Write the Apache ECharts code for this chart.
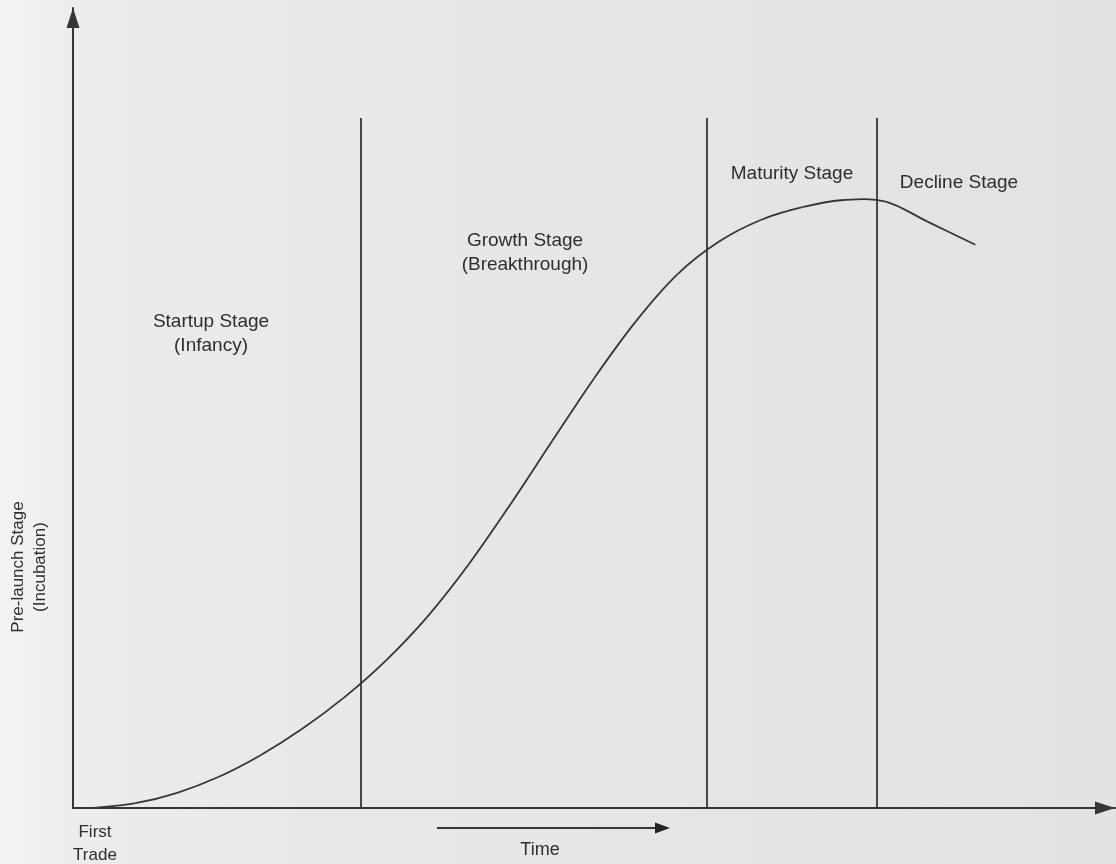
<!DOCTYPE html>
<html>
<head>
<meta charset="utf-8">
<script src="https://cdn.jsdelivr.net/npm/echarts@6/dist/echarts.min.js"></script>
<style>
html,body{margin:0;padding:0;background:#e6e6e6;}
#chart{width:1116px;height:864px;}
</style>
</head>
<body>
<div id="chart"></div>
<script>
// Life-cycle curve: time (x) vs. development (y), arbitrary 0-100 units
const curveTime = [2, 6, 10, 14, 18, 22, 26, 30, 34, 38, 42, 46, 50, 54, 58, 62, 66, 70, 74, 78, 82, 86.6];
const curveLevel = [0, 0.6, 1.9, 3.9, 6.6, 9.9, 13.8, 18.4, 23.9, 30.5, 38.0, 45.9, 53.7, 60.8, 66.7, 70.8, 73.5, 75.1, 76.0, 75.8, 73.3, 70.4];
// Stage boundaries (time) and their height
const stageBoundaries = [27.6, 60.8, 77.1];
const boundaryTop = 86.25;
// Stage labels
const stageLabels = ['Startup Stage\n(Infancy)', 'Growth Stage\n(Breakthrough)', 'Maturity Stage', 'Decline Stage'];
const yAxisLabel = 'Pre-launch Stage\n(Incubation)';
const originLabel = 'First\nTrade';
const timeLabel = 'Time';

const ink = '#363636';
const txt = '#2e2e2e';
const font = '"Liberation Sans", Arial, sans-serif';

const chart = echarts.init(document.getElementById('chart'), null, {renderer: 'canvas'});

const curveData = curveTime.map((t, i) => [t, curveLevel[i]]);
const boundaryLines = stageBoundaries.map(x => [{coord: [x, 0]}, {coord: [x, boundaryTop]}]);

const labelPos = [[211, 334], [525, 253], [792, 174], [959, 183]];

const graphics = [
  {
    type: 'rect', z: -100, silent: true,
    shape: {x: 0, y: 0, width: 1116, height: 864},
    style: {fill: new echarts.graphic.LinearGradient(0, 0, 1, 0, [
      {offset: 0, color: '#f3f3f3'},
      {offset: 0.08, color: '#ececec'},
      {offset: 0.4, color: '#e7e7e7'},
      {offset: 1, color: '#e2e2e2'}
    ])}
  }
];
stageLabels.forEach((s, i) => {
  graphics.push({
    type: 'text', x: labelPos[i][0], y: labelPos[i][1],
    style: {text: s, fill: txt, font: '19px ' + font, textAlign: 'center', textVerticalAlign: 'middle', lineHeight: 24}
  });
});
graphics.push({
  type: 'text', x: 29, y: 567, rotation: Math.PI / 2,
  style: {text: yAxisLabel, fill: txt, font: '17px ' + font, textAlign: 'center', textVerticalAlign: 'middle', lineHeight: 22}
});
graphics.push({
  type: 'text', x: 95, y: 844,
  style: {text: originLabel, fill: txt, font: '17px ' + font, textAlign: 'center', textVerticalAlign: 'middle', lineHeight: 23}
});
graphics.push({
  type: 'text', x: 540, y: 850,
  style: {text: timeLabel, fill: txt, font: '18px ' + font, textAlign: 'center', textVerticalAlign: 'middle'}
});
graphics.push({
  type: 'line', shape: {x1: 437, y1: 828, x2: 658, y2: 828},
  style: {stroke: ink, lineWidth: 2}
});
graphics.push({
  type: 'polygon', shape: {points: [[655, 822.5], [670, 828], [655, 833.5]]},
  style: {fill: '#222'}
});

// Smooth curve through the data points (Catmull-Rom -> cubic Bezier), positioned by the axes
function renderCurve(params, api) {
  if (params.dataIndex !== 0) return null;
  const p = curveData.map(d => api.coord(d));
  const n = p.length;
  const children = [];
  for (let i = 0; i < n - 1; i++) {
    const p0 = p[Math.max(i - 1, 0)], p1 = p[i], p2 = p[i + 1], p3 = p[Math.min(i + 2, n - 1)];
    children.push({
      type: 'bezierCurve',
      shape: {
        x1: p1[0], y1: p1[1],
        cpx1: p1[0] + (p2[0] - p0[0]) / 6, cpy1: p1[1] + (p2[1] - p0[1]) / 6,
        cpx2: p2[0] - (p3[0] - p1[0]) / 6, cpy2: p2[1] - (p3[1] - p1[1]) / 6,
        x2: p2[0], y2: p2[1]
      },
      style: {fill: null, stroke: ink, lineWidth: 1.8}
    });
  }
  return {type: 'group', children: children};
}

chart.setOption({
  animation: false,
  backgroundColor: 'transparent',
  grid: {left: 73, right: 1, top: 8, bottom: 56, containLabel: false},
  xAxis: {
    type: 'value', min: 0, max: 100,
    axisLine: {show: true, lineStyle: {color: ink, width: 2}, symbol: ['none', 'triangle'], symbolSize: [13, 20], symbolOffset: [0, -10]},
    axisTick: {show: false}, axisLabel: {show: false}, splitLine: {show: false}
  },
  yAxis: {
    type: 'value', min: 0, max: 100,
    axisLine: {show: true, lineStyle: {color: ink, width: 2}, symbol: ['none', 'triangle'], symbolSize: [13, 20], symbolOffset: [0, -10]},
    axisTick: {show: false}, axisLabel: {show: false}, splitLine: {show: false}
  },
  graphic: graphics,
  series: [
    {
      type: 'custom', data: curveData, renderItem: renderCurve, silent: true, clip: false
    },
    {
      type: 'line', data: [], showSymbol: false,
      markLine: {
        silent: true, symbol: ['none', 'none'], label: {show: false},
        lineStyle: {color: ink, width: 1.8, type: 'solid'},
        data: boundaryLines
      }
    }
  ]
});
</script>
</body>
</html>
